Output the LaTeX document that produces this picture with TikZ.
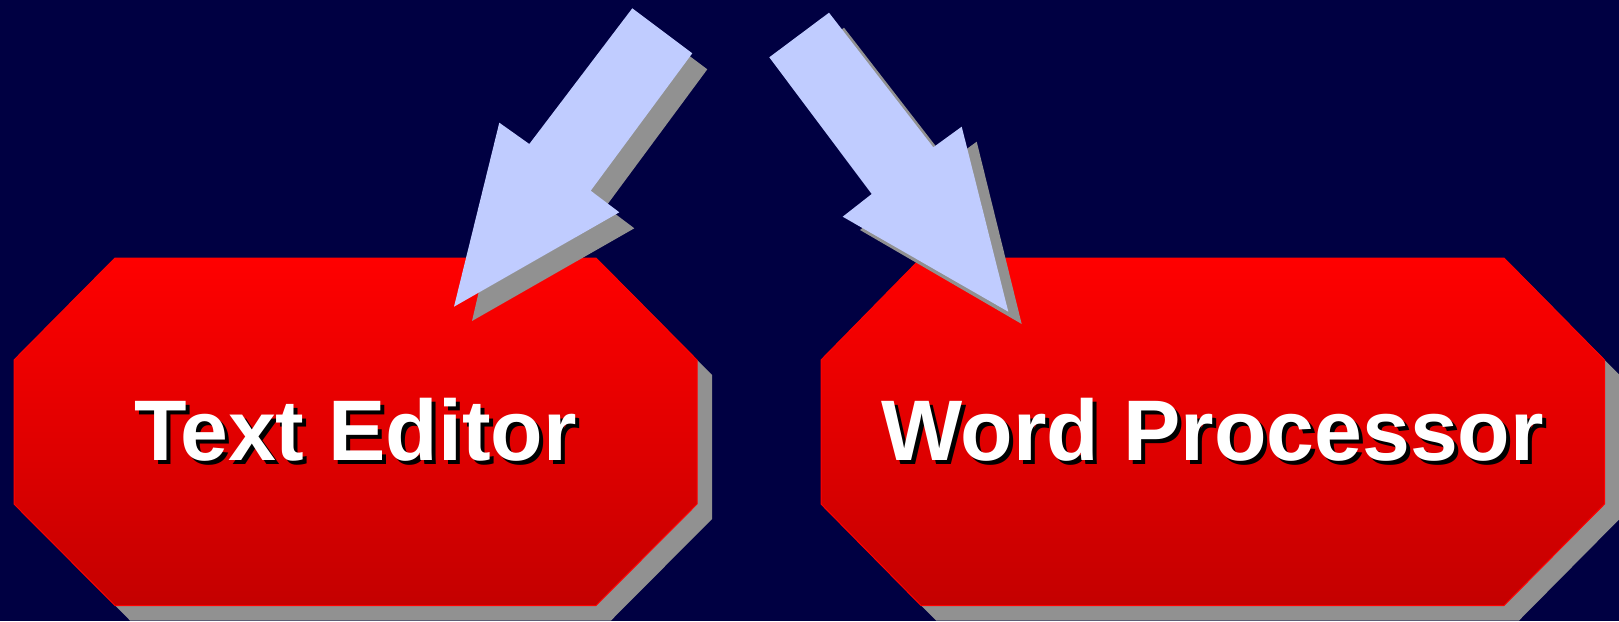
\documentclass[tikz,border=0pt]{standalone}
\usepackage{fontspec}
\setmainfont{Liberation Sans}
\definecolor{bgnavy}{RGB}{0,0,66}
\definecolor{arrowblue}{RGB}{192,204,255}
\definecolor{shadowgray}{RGB}{145,145,145}
\definecolor{redtop}{RGB}{255,0,0}
\definecolor{redbot}{RGB}{196,0,0}
\tikzset{
  octfill/.style={top color=redtop, bottom color=redbot, draw=red, line width=1pt},
  shadowfill/.style={fill=shadowgray, draw=none},
  arrowfill/.style={fill=arrowblue, draw=none},
  labeltext/.style={font=\fontsize{86}{90}\selectfont\bfseries, text=white, inner sep=0pt},
  labelshadow/.style={font=\fontsize{86}{90}\selectfont\bfseries, text=black, inner sep=0pt},
}
\begin{document}
\begin{tikzpicture}[x=1pt,y=-1pt]
\useasboundingbox (0,0) rectangle (1619,621);
\clip (0,0) rectangle (1619,621);
\fill[bgnavy] (0,0) rectangle (1619,621);
% ---- left octagon ----
\path[shadowfill,shift={(15,15)}] (115,258) -- (596,258) -- (697,360) -- (697,504) -- (596,605.5) -- (115,605.5) -- (14,504) -- (14,360) -- cycle;
\path[octfill] (115,258) -- (596,258) -- (697,360) -- (697,504) -- (596,605.5) -- (115,605.5) -- (14,504) -- (14,360) -- cycle;
\coordinate (oct1) at (355.5,430);
\node[labelshadow] (te-s) at ([shift={(4,4)}]oct1) {Text Editor};
\node[labeltext] (te) at (oct1) {Text Editor};
% ---- right octagon ----
\path[shadowfill,shift={(15,15)}] (921,258) -- (1504,258) -- (1604.5,360) -- (1604.5,504) -- (1504,605.5) -- (921,605.5) -- (821,504) -- (821,360) -- cycle;
\path[octfill] (921,258) -- (1504,258) -- (1604.5,360) -- (1604.5,504) -- (1504,605.5) -- (921,605.5) -- (821,504) -- (821,360) -- cycle;
\coordinate (oct2) at (1212.7,430);
\node[labelshadow] (wp-s) at ([shift={(4,4)}]oct2) {Word Processor};
\node[labeltext] (wp) at (oct2) {Word Processor};
% ---- left arrow ----
\path[shadowfill,shift={(15,16)}] (632.3,8.3) -- (692.3,53.3) -- (590.7,190.7) -- (619.3,212.3) -- (457,305) -- (499.3,122.7) -- (529.3,144) -- cycle;
\path[arrowfill] (632.3,8.3) -- (692.3,53.3) -- (590.7,190.7) -- (619.3,212.3) -- (454,306.7) -- (499.3,122.7) -- (529.3,144) -- cycle;
% ---- right arrow ----
\path[shadowfill,shift={(15,15)}] (829,12.7) -- (769.3,57.3) -- (871.7,194) -- (845,215) -- (1006.7,309) -- (961.7,126.7) -- (933.3,147.3) -- cycle;
\path[arrowfill] (829,12.7) -- (769.3,57.3) -- (871.7,194) -- (842.7,216.7) -- (1008.3,311.7) -- (961.7,126.7) -- (933.3,147.3) -- cycle;
\end{tikzpicture}
\end{document}
